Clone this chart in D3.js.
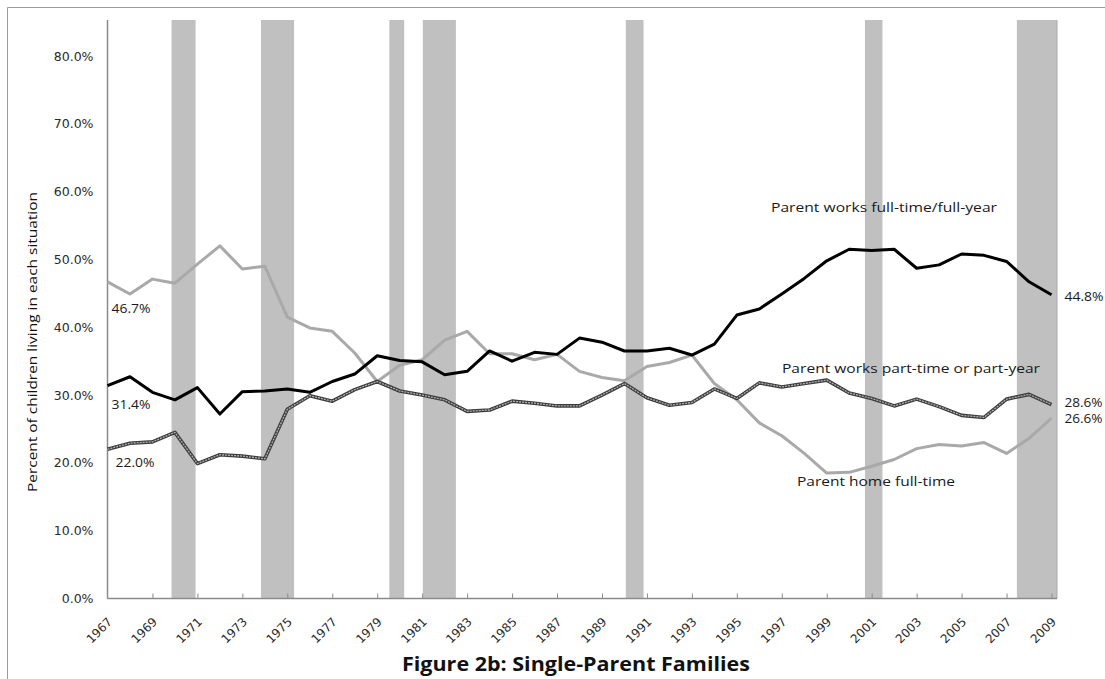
<!DOCTYPE html>
<html>
<head>
<meta charset="utf-8">
<script src="https://d3js.org/d3.v7.min.js"></script>
<style>
  body { margin: 0; background: #fff; }
  svg { display: block; }
</style>
</head>
<body>
<svg width="1105" height="679"></svg>
<script>
// years on the x axis
const years = d3.range(1967, 2010)
// parent works full-time/full-year (percent)
const fullTime = [31.4, 32.7, 30.4, 29.3, 31.1, 27.2, 30.5, 30.6, 30.9, 30.4, 32.0, 33.1, 35.8, 35.1,
  34.9, 33.0, 33.5, 36.5, 35.0, 36.3, 36.0, 38.4, 37.8, 36.5, 36.5, 36.9, 35.9, 37.5, 41.8,
  42.7, 44.9, 47.2, 49.8, 51.5, 51.3, 51.5, 48.7, 49.2, 50.8, 50.6, 49.7, 46.7, 44.8]
// parent works part-time or part-year
const partTime = [22.0, 22.9, 23.1, 24.5, 19.9, 21.2, 21.0, 20.6, 27.9, 29.9, 29.1, 30.8, 32.0, 30.6,
  30.0, 29.3, 27.6, 27.8, 29.1, 28.8, 28.4, 28.4, 30.0, 31.7, 29.6, 28.5, 28.9, 30.9, 29.5,
  31.8, 31.2, 31.7, 32.2, 30.3, 29.5, 28.4, 29.4, 28.3, 27.0, 26.7, 29.4, 30.1, 28.6]
// parent home full-time
const homeFull = [46.7, 44.9, 47.1, 46.5, 49.3, 52.0, 48.6, 49.0, 41.5, 39.9, 39.4, 36.2, 32.0, 34.4,
  35.2, 38.1, 39.4, 36.1, 36.1, 35.2, 36.0, 33.5, 32.6, 32.1, 34.2, 34.8, 35.9, 31.7, 29.3,
  25.9, 24.0, 21.4, 18.5, 18.6, 19.5, 20.5, 22.1, 22.7, 22.5, 23.0, 21.4, 23.6, 26.6]
// recession bands (start, end in fractional years)
const recessions = [[1969.85, 1970.92], [1973.83, 1975.3], [1979.54, 1980.2], [1981.03, 1982.5],
  [1990.06, 1990.85], [2000.7, 2001.48], [2007.46, 2009.3]]
// y tick values
const yTicks = [0, 10, 20, 30, 40, 50, 60, 70, 80]
// x tick labels (every other year)
const xTicks = d3.range(1967, 2010, 2)

const svg = d3.select('svg')
const plotLeft = 107.5, plotRight = 1057, plotTop = 20, plotBottom = 598.5

const xScale = d3.scaleLinear().domain([1967, 2009]).range([107.5, 1051.5])
const yScale = d3.scaleLinear().domain([0, 80]).range([598.5, 56])

// outer frame of the chart
svg.append('path')
  .attr('d', `M7.5,679 V7.5 H1105`)
  .attr('fill', 'none')
  .attr('stroke', '#9a9a9a')
  .attr('stroke-width', 1)

svg.append('clipPath').attr('id', 'plotClip')
  .append('rect')
  .attr('x', plotLeft).attr('y', plotTop)
  .attr('width', plotRight - plotLeft).attr('height', plotBottom - plotTop)

// recession bands
svg.append('g')
  .attr('clip-path', 'url(#plotClip)')
  .selectAll('rect')
  .data(recessions)
  .join('rect')
    .attr('x', d => xScale(d[0]))
    .attr('width', d => xScale(d[1]) - xScale(d[0]))
    .attr('y', plotTop)
    .attr('height', plotBottom - plotTop)
    .attr('fill', '#c0c0c0')

// left axis: labels only, no tick marks
const yAxis = svg.append('g')
  .attr('transform', `translate(${plotLeft},0)`)
  .call(d3.axisLeft(yScale).tickValues(yTicks).tickSize(0).tickPadding(14)
    .tickFormat(d => d.toFixed(1) + '%'))
yAxis.select('.domain').remove()
yAxis.selectAll('text')
  .attr('font-family', 'DejaVu Sans, Verdana, sans-serif')
  .attr('font-size', 12.5)
  .attr('fill', '#2a2a2a')

// axis lines
svg.append('line')
  .attr('x1', plotLeft).attr('x2', plotLeft)
  .attr('y1', plotTop).attr('y2', plotBottom)
  .attr('stroke', '#8a8a8a').attr('stroke-width', 1.5)
svg.append('line')
  .attr('x1', plotRight).attr('x2', plotRight)
  .attr('y1', plotTop).attr('y2', plotBottom)
  .attr('stroke', '#a8a8a8').attr('stroke-width', 1)

// bottom axis with inward ticks
const xAxis = svg.append('g')
  .attr('transform', `translate(0,${plotBottom})`)
  .call(d3.axisBottom(xScale).tickValues(xTicks).tickSize(-5).tickFormat(d3.format('d')))
xAxis.select('.domain')
  .attr('d', `M${plotLeft},0H${plotRight}`)
  .attr('stroke', '#8a8a8a').attr('stroke-width', 1.5)
xAxis.selectAll('.tick line')
  .attr('stroke', '#8a8a8a')
  .attr('opacity', d => d === 1967 ? 0 : 1)
xAxis.selectAll('.tick text')
  .attr('font-family', 'DejaVu Sans, Verdana, sans-serif')
  .attr('font-size', 12)
  .attr('fill', '#2a2a2a')
  .attr('text-anchor', 'end')
  .attr('y', 0).attr('dy', 0)
  .attr('transform', 'translate(5,24) rotate(-45)')

// lines
const line = d3.line()
  .x((d, i) => xScale(years[i]))
  .y(d => yScale(d))

svg.append('path')
  .datum(homeFull)
  .attr('d', line)
  .attr('fill', 'none')
  .attr('stroke', '#a9a9a9')
  .attr('stroke-width', 3)
  .attr('stroke-linejoin', 'round')

// part-time line is a compound line: dark outside, light inside
svg.append('path')
  .datum(partTime)
  .attr('d', line)
  .attr('fill', 'none')
  .attr('stroke', '#3c3c3c')
  .attr('stroke-width', 3.6)
  .attr('stroke-linejoin', 'round')
svg.append('path')
  .datum(partTime)
  .attr('d', line)
  .attr('fill', 'none')
  .attr('stroke', '#b0b0b0')
  .attr('stroke-width', 1.3)
  .attr('stroke-dasharray', '2,1')
  .attr('stroke-linejoin', 'round')

svg.append('path')
  .datum(fullTime)
  .attr('d', line)
  .attr('fill', 'none')
  .attr('stroke', '#000')
  .attr('stroke-width', 3)
  .attr('stroke-linejoin', 'round')

// text annotations
const labelFont = 'Open Sans, DejaVu Sans, sans-serif'
const notes = [
  { text: '46.7%', x: xScale(1967) + 4, y: yScale(homeFull[0]) + 31, len: 39, size: 13 },
  { text: '31.4%', x: xScale(1967) + 4, y: yScale(fullTime[0]) + 23, len: 39, size: 13 },
  { text: '22.0%', x: xScale(1967) + 8, y: yScale(partTime[0]) + 18, len: 39, size: 13 },
  { text: '44.8%', x: xScale(2009) + 13, y: yScale(44.8) + 6, len: 39, size: 13 },
  { text: '28.6%', x: xScale(2009) + 13, y: yScale(28.6) + 2, len: 38, size: 12 },
  { text: '26.6%', x: xScale(2009) + 13, y: yScale(28.6) + 18.5, len: 38, size: 12 },
  { text: 'Parent works full-time/full-year', x: 771, y: 212, len: 226, size: 13 },
  { text: 'Parent works part-time or part-year', x: 782, y: 373, len: 258, size: 13 },
  { text: 'Parent home full-time', x: 797, y: 486, len: 158, size: 13 }
]
svg.append('g')
  .selectAll('text')
  .data(notes)
  .join('text')
    .attr('x', d => d.x)
    .attr('y', d => d.y)
    .attr('font-family', labelFont)
    .attr('font-size', d => d.size)
    .attr('textLength', d => d.len)
    .attr('lengthAdjust', 'spacingAndGlyphs')
    .attr('fill', '#1a1a1a')
    .text(d => d.text)

// y axis title
svg.append('text')
  .attr('transform', 'translate(37,342) rotate(-90)')
  .attr('text-anchor', 'middle')
  .attr('font-family', labelFont)
  .attr('font-size', 12.5)
  .attr('textLength', 300)
  .attr('lengthAdjust', 'spacingAndGlyphs')
  .attr('fill', '#111')
  .text('Percent of children living in each situation')

// chart title
svg.append('text')
  .attr('x', 402)
  .attr('y', 671)
  .attr('font-family', labelFont)
  .attr('font-weight', 'bold')
  .attr('font-size', 19)
  .attr('textLength', 348)
  .attr('lengthAdjust', 'spacingAndGlyphs')
  .attr('fill', '#111')
  .text('Figure 2b: Single-Parent Families')
</script>
</body>
</html>
